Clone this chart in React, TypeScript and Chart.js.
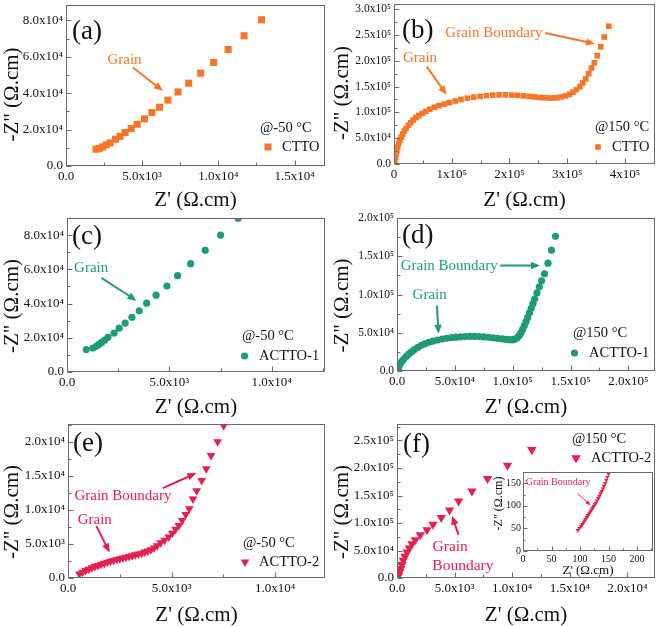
import React, { useEffect, useRef } from "react";
import { Chart, registerables } from "chart.js";

Chart.register(...registerables);

const SERIF = "'Liberation Serif', 'Times New Roman', Times, serif";
const ORANGE = "#F5762A";
const GREEN = "#1E9C74";
const RED = "#E3204F";
const FRAME = "#6a6a6a";

// ---------- (a) CTTO @-50 °C ----------
const ctto50X = [1970, 2190, 2410, 2630, 2900, 3250, 3550, 3880, 4280, 4670, 5150, 5640, 6140, 6690, 7350, 8050, 8840, 9690, 10640, 11690, 12830];
const ctto50Y = [9200, 9700, 10500, 11600, 12700, 14700, 16300, 18400, 20600, 22900, 25900, 29400, 32300, 36200, 40700, 45500, 51000, 56900, 64000, 71600, 80400];
const aXTicks = [0, 5000, 10000, 15000];
const aXLabels = ["0.0", "5.0x10³", "1.0x10⁴", "1.5x10⁴"];
const aYTicks = [0, 20000, 40000, 60000, 80000];
const aYLabels = ["0.0", "2.0x10⁴", "4.0x10⁴", "6.0x10⁴", "8.0x10⁴"];

// ---------- (b) CTTO @150 °C ----------
const ctto150X = [1500, 2500, 3500, 5000, 6500, 8000, 10000, 12500, 15000, 18000, 21000, 25000, 29000, 33000, 38000, 43000, 49000, 55000, 62000, 70000, 78000, 87000, 96000, 106000, 116000, 127000, 138000, 149000, 160000, 171000, 182000, 193000, 204000, 214000, 224000, 234000, 243000, 252000, 260000, 268000, 276000, 283000, 290000, 297000, 304000, 310000, 316000, 322000, 327000, 332000, 337000, 342000, 347000, 352000, 358000, 364000, 372000];
const ctto150Y = [5000, 12000, 19000, 26000, 33000, 40000, 46000, 52000, 58000, 64000, 69000, 75000, 80000, 85000, 90000, 94000, 98000, 102000, 106000, 110000, 113000, 116000, 119000, 122000, 125000, 127500, 129500, 131000, 132500, 133500, 134000, 134000, 133500, 133000, 132000, 131000, 130000, 129000, 128500, 128000, 128000, 128500, 130000, 132000, 135000, 139000, 144000, 150000, 157000, 165000, 175000, 186000, 196000, 210000, 227000, 246000, 267000];
const bXTicks = [0, 100000, 200000, 300000, 400000];
const bXLabels = ["0", "1x10⁵", "2x10⁵", "3x10⁵", "4x10⁵"];
const bYTicks = [0, 50000, 100000, 150000, 200000, 250000, 300000];
const bYLabels = ["0.0", "5.0x10⁴", "1.0x10⁵", "1.5x10⁵", "2.0x10⁵", "2.5x10⁵", "3.0x10⁵"];

// ---------- (c) ACTTO-1 @-50 °C ----------
const a1m50X = [940, 1260, 1430, 1560, 1690, 1840, 2000, 2300, 2550, 2840, 3170, 3530, 3890, 4350, 4880, 5400, 6040, 6750, 7500, 8360];
const a1m50Y = [13100, 14000, 15000, 16100, 17300, 18600, 20300, 22800, 25600, 28600, 32000, 35800, 40200, 44900, 50200, 56300, 63300, 71100, 80000, 89900];
const cXTicks = [0, 5000, 10000];
const cXLabels = ["0.0", "5.0x10³", "1.0x10⁴"];
const cYTicks = [0, 20000, 40000, 60000, 80000];
const cYLabels = ["0.0", "2.0x10⁴", "4.0x10⁴", "6.0x10⁴", "8.0x10⁴"];

// ---------- (d) ACTTO-1 @150 °C ----------
const a1p150X = [1000, 2000, 3000, 4500, 6000, 8000, 10000, 12500, 15000, 18000, 21000, 24000, 27500, 31000, 35000, 39000, 43000, 47000, 51000, 55000, 59000, 63000, 67000, 71000, 75000, 79000, 83000, 87000, 91000, 94500, 97500, 100000, 102000, 104000, 105500, 107000, 108500, 110000, 111500, 113000, 114500, 116000, 117500, 119000, 121000, 123000, 125000, 127500, 130500, 133500, 137000];
const a1p150Y = [3000, 7000, 10000, 13000, 16000, 19000, 22000, 25000, 28000, 31000, 33500, 35500, 37500, 39000, 40500, 41800, 42800, 43600, 44200, 44700, 45000, 45200, 45200, 45000, 44600, 44000, 43300, 42600, 41900, 41300, 41000, 41000, 41800, 43500, 46000, 49500, 54000, 59000, 64500, 70000, 76000, 82000, 88000, 94000, 102000, 110000, 118000, 127000, 141000, 158000, 176000];
const dXTicks = [0, 50000, 100000, 150000, 200000];
const dXLabels = ["0.0", "5.0x10⁴", "1.0x10⁵", "1.5x10⁵", "2.0x10⁵"];
const dYTicks = [0, 50000, 100000, 150000, 200000];
const dYLabels = ["0.0", "5.0x10⁴", "1.0x10⁵", "1.5x10⁵", "2.0x10⁵"];

// ---------- (e) ACTTO-2 @-50 °C ----------
const a2m50X = [550, 700, 850, 1000, 1150, 1300, 1450, 1600, 1750, 1900, 2050, 2200, 2350, 2500, 2650, 2800, 2950, 3100, 3250, 3400, 3550, 3700, 3850, 4000, 4150, 4300, 4470, 4660, 4860, 5030, 5190, 5350, 5510, 5680, 5850, 6030, 6210, 6450, 6670, 6900, 7220, 7510];
const a2m50Y = [600, 850, 1100, 1300, 1500, 1680, 1850, 2000, 2150, 2300, 2450, 2580, 2700, 2820, 2940, 3060, 3170, 3280, 3400, 3520, 3650, 3800, 3960, 4150, 4400, 4750, 5190, 5530, 6020, 6550, 7140, 7720, 8450, 9320, 10150, 11600, 12820, 14320, 16020, 17960, 20000, 22330];
const eXTicks = [0, 5000, 10000];
const eXLabels = ["0.0", "5.0x10³", "1.0x10⁴"];
const eYTicks = [0, 5000, 10000, 15000, 20000];
const eYLabels = ["0.0", "5.0x10³", "1.0x10⁴", "1.5x10⁴", "2.0x10⁴"];

// ---------- (f) ACTTO-2 @150 °C ----------
const a2p150X = [145, 231, 318, 434, 549, 694, 867, 1069, 1300, 1590, 2023, 2601, 3121, 3844, 4566, 5347, 6503, 7861, 9595, 11705];
const a2p150Y = [4820, 10840, 16870, 24100, 31930, 39160, 46990, 54220, 62050, 69280, 78310, 87350, 97590, 109640, 123490, 139760, 157830, 180720, 204820, 233130];
const fXTicks = [0, 5000, 10000, 15000, 20000];
const fXLabels = ["0.0", "5.0x10³", "1.0x10⁴", "1.5x10⁴", "2.0x10⁴"];
const fYTicks = [0, 50000, 100000, 150000, 200000, 250000];
const fYLabels = ["0.0", "5.0x10⁴", "1.0x10⁵", "1.5x10⁵", "2.0x10⁵", "2.5x10⁵"];

// ---------- inset of (f) ----------
const insetX = [96, 99, 102, 104, 106, 108, 110, 112, 114, 116, 118, 120, 122, 124, 126, 128, 130, 132, 134, 136, 138, 140, 142, 144, 146, 148, 150];
const insetY = [46, 51, 55, 59, 63, 67, 71, 75, 79, 83, 87, 91, 95, 99, 103, 107, 112, 117, 122, 127, 132, 138, 144, 150, 157, 164, 171];
const insXTicks = [0, 50, 100, 150, 200];
const insXLabels = ["0", "50", "100", "150", "200"];
const insYTicks = [0, 50, 100, 150];
const insYLabels = ["0", "50", "100", "150"];

const Y_TITLE = "-Z\" (Ω.cm)";
const X_TITLE = "Z' (Ω.cm)";

type Spec = any;

function drawShape(ctx: CanvasRenderingContext2D, shape: string, x: number, y: number, r: number, color: string) {
  ctx.fillStyle = color;
  ctx.beginPath();
  if (shape === "rect") {
    const s = r * Math.SQRT1_2;
    ctx.rect(x - s, y - s, 2 * s, 2 * s);
  } else if (shape === "circle") {
    ctx.arc(x, y, r, 0, Math.PI * 2);
  } else {
    ctx.moveTo(x - r * 0.866, y - r * 0.5);
    ctx.lineTo(x + r * 0.866, y - r * 0.5);
    ctx.lineTo(x, y + r);
    ctx.closePath();
  }
  ctx.fill();
}

function drawArrow(ctx: CanvasRenderingContext2D, x1: number, y1: number, x2: number, y2: number, color: string, lw: number, head: number) {
  const a = Math.atan2(y2 - y1, x2 - x1);
  const c = Math.cos(a), s = Math.sin(a);
  ctx.strokeStyle = color;
  ctx.lineWidth = lw;
  ctx.beginPath();
  ctx.moveTo(x1, y1);
  ctx.lineTo(x2 - c * head * 0.8, y2 - s * head * 0.8);
  ctx.stroke();
  const w = head * 0.42;
  ctx.fillStyle = color;
  ctx.beginPath();
  ctx.moveTo(x2, y2);
  ctx.lineTo(x2 - head * c + w * s, y2 - head * s - w * c);
  ctx.lineTo(x2 - head * c - w * s, y2 - head * s + w * c);
  ctx.closePath();
  ctx.fill();
}

function minorsOf(ticks: number[], min: number, max: number) {
  const step = ticks[1] - ticks[0];
  const out: number[] = [];
  const first = ticks[0] - step / 2;
  if (first > min) out.push(first);
  ticks.forEach((t) => {
    const m = t + step / 2;
    if (m < max) out.push(m);
  });
  return out;
}

function makeDecor(p: Spec) {
  return {
    id: "decor",
    afterDraw(chart: any) {
      const ctx: CanvasRenderingContext2D = chart.ctx;
      const { left, right, top, bottom } = chart.chartArea;
      const xs = chart.scales.x;
      const ys = chart.scales.y;
      ctx.save();
      // frame
      ctx.strokeStyle = FRAME;
      ctx.lineWidth = 1;
      const L = Math.round(left) + 0.5, T = Math.round(top) + 0.5;
      const R = Math.round(right) - 0.5, B = Math.round(bottom) - 0.5;
      ctx.strokeRect(L, T, R - L, B - T);
      // inward ticks
      const maj = p.majorTick, mnr = p.minorTick;
      ctx.beginPath();
      p.xTicks.forEach((v: number) => {
        const px = Math.round(xs.getPixelForValue(v)) + 0.5;
        ctx.moveTo(px, B); ctx.lineTo(px, B - maj);
      });
      minorsOf(p.xTicks, p.xMin, p.xMax).forEach((v) => {
        const px = Math.round(xs.getPixelForValue(v)) + 0.5;
        ctx.moveTo(px, B); ctx.lineTo(px, B - mnr);
      });
      p.yTicks.forEach((v: number) => {
        const py = Math.round(ys.getPixelForValue(v)) + 0.5;
        ctx.moveTo(L, py); ctx.lineTo(L + maj, py);
      });
      minorsOf(p.yTicks, p.yMin, p.yMax).forEach((v) => {
        const py = Math.round(ys.getPixelForValue(v)) + 0.5;
        ctx.moveTo(L, py); ctx.lineTo(L + mnr, py);
      });
      ctx.stroke();

      // axis titles
      ctx.fillStyle = "#111";
      ctx.textAlign = "center";
      ctx.textBaseline = "middle";
      ctx.font = `${p.titleSize}px ${SERIF}`;
      ctx.fillText(X_TITLE, (left + right) / 2 + (p.xTitleDx || 0), chart.height - p.xTitleFromBottom);
      ctx.save();
      ctx.translate(p.yTitleX, (top + bottom) / 2 + p.yTitleDy);
      ctx.rotate(-Math.PI / 2);
      ctx.font = `${p.yTitleSize || p.titleSize}px ${SERIF}`;
      ctx.fillText(Y_TITLE, 0, 0);
      ctx.restore();

      // panel tag
      if (p.tag) {
        ctx.fillStyle = "#111";
        ctx.textAlign = "left";
        ctx.textBaseline = "middle";
        ctx.font = `27px ${SERIF}`;
        ctx.fillText(p.tag, left + p.tagDx, top + p.tagDy);
      }

      // annotations
      (p.notes || []).forEach((n: any) => {
        ctx.fillStyle = p.color;
        ctx.textAlign = n.align || "center";
        ctx.textBaseline = "middle";
        ctx.font = `${n.size}px ${SERIF}`;
        ctx.fillText(n.text, xs.getPixelForValue(n.x), ys.getPixelForValue(n.y));
      });
      (p.arrows || []).forEach((a: any) => {
        drawArrow(ctx, xs.getPixelForValue(a.x1), ys.getPixelForValue(a.y1), xs.getPixelForValue(a.x2), ys.getPixelForValue(a.y2), p.color, a.lw || 2, a.head || 9);
      });

      // legend
      if (p.legend) {
        const lg = p.legend;
        const ax = right + lg.dx;
        const ay = lg.fromTop ? top : bottom;
        ctx.fillStyle = "#111";
        ctx.textAlign = "left";
        ctx.textBaseline = "middle";
        ctx.font = `14.5px ${SERIF}`;
        ctx.fillText(lg.temp, ax, ay + lg.y1);
        drawShape(ctx, p.shape, right + lg.symDx, ay + lg.y2, p.radius, p.color);
        ctx.fillStyle = "#111";
        ctx.fillText(lg.name, right + lg.textDx, ay + lg.y2);
      }
      ctx.restore();
    },
  };
}

function makeLabeler(ticks: number[], labels: string[]) {
  return (v: any) => {
    const i = ticks.indexOf(Number(v));
    return i >= 0 ? labels[i] : "";
  };
}

function PanelChart({ p }: { p: Spec }) {
  const ref = useRef<HTMLCanvasElement | null>(null);
  useEffect(() => {
    const canvas = ref.current;
    if (!canvas) return;
    const data = p.xs.map((x: number, i: number) => ({ x, y: p.ys[i] }));
    const chart = new Chart(canvas, {
      type: "scatter",
      data: {
        datasets: [
          {
            data,
            pointStyle: p.shape,
            pointRadius: p.radius,
            pointRotation: p.shape === "triangle" ? 180 : 0,
            pointBackgroundColor: p.color,
            pointBorderColor: p.color,
            pointBorderWidth: 0,
            showLine: false,
          },
        ],
      },
      options: {
        animation: false,
        responsive: false,
        maintainAspectRatio: false,
        devicePixelRatio: 1,
        events: [],
        layout: {
          padding: {
            left: 0,
            top: p.plot.top - p.box.y,
            right: p.box.x + p.box.w - p.plot.right,
            bottom: 0,
          },
        },
        plugins: { legend: { display: false }, tooltip: { enabled: false } },
        scales: {
          x: {
            type: "linear",
            min: p.xMin,
            max: p.xMax,
            grid: { display: false, drawTicks: false },
            border: { display: false },
            ticks: {
              padding: p.xTickPad,
              color: "#111",
              font: { family: SERIF, size: p.tickSize },
              autoSkip: false,
              maxRotation: 0,
              includeBounds: false,
              callback: makeLabeler(p.xTicks, p.xLabels),
            },
            afterBuildTicks: (s: any) => {
              s.ticks = p.xTicks.map((v: number) => ({ value: v }));
            },
            afterFit: (s: any) => {
              s.height = p.box.y + p.box.h - p.plot.bottom;
              s.paddingLeft = 0; s.paddingRight = 0; s.paddingTop = 0; s.paddingBottom = 0;
            },
          },
          y: {
            type: "linear",
            min: p.yMin,
            max: p.yMax,
            grid: { display: false, drawTicks: false },
            border: { display: false },
            ticks: {
              padding: p.yTickPad,
              color: "#111",
              font: { family: SERIF, size: p.yTickSize || p.tickSize },
              autoSkip: false,
              includeBounds: false,
              callback: makeLabeler(p.yTicks, p.yLabels),
            },
            afterBuildTicks: (s: any) => {
              s.ticks = p.yTicks.map((v: number) => ({ value: v }));
            },
            afterFit: (s: any) => {
              s.width = p.plot.left - p.box.x;
              s.paddingLeft = 0; s.paddingRight = 0; s.paddingTop = 0; s.paddingBottom = 0;
            },
          },
        },
      },
      plugins: [makeDecor(p)],
    } as any);
    return () => chart.destroy();
  }, [p]);
  return (
    <canvas
      ref={ref}
      width={p.box.w}
      height={p.box.h}
      style={{ position: "absolute", left: p.box.x, top: p.box.y, width: p.box.w, height: p.box.h }}
    />
  );
}

const common = { majorTick: 5, minorTick: 3, tickSize: 13, titleSize: 21, xTickPad: 3, yTickPad: 3, yTitleX: 12 };

const panels: Spec[] = [
  {
    ...common,
    box: { x: 0, y: 0, w: 330, h: 210 },
    plot: { left: 66, top: 4, right: 325, bottom: 166 },
    xs: ctto50X, ys: ctto50Y, color: ORANGE, shape: "rect", radius: 5,
    xMin: 0, xMax: 17000, yMin: 0, yMax: 88500,
    xTicks: aXTicks, xLabels: aXLabels, yTicks: aYTicks, yLabels: aYLabels,
    xTitleFromBottom: 10, yTitleDy: 9,
    tag: "(a)", tagDx: 6, tagDy: 27,
    notes: [{ text: "Grain", x: 3840, y: 58300, size: 15 }],
    arrows: [{ x1: 4390, y1: 54100, x2: 6360, y2: 41300 }],
    legend: { temp: "@-50 °C", name: "CTTO", dx: -65, symDx: -57, textDx: -43, y1: -38, y2: -19 },
  },
  {
    ...common,
    box: { x: 330, y: 0, w: 331, h: 210 },
    plot: { left: 394, top: 4, right: 655, bottom: 164 },
    xs: ctto150X, ys: ctto150Y, color: ORANGE, shape: "rect", radius: 4,
    xMin: 0, xMax: 452000, yMin: 0, yMax: 310000,
    xTicks: bXTicks, xLabels: bXLabels, yTicks: bYTicks, yLabels: bYLabels,
    yTickSize: 11.5,
    xTitleFromBottom: 10, yTitleDy: 9,
    tag: "(b)", tagDx: 8, tagDy: 27,
    notes: [
      { text: "Grain Boundary", x: 173000, y: 254000, size: 15 },
      { text: "Grain", x: 45000, y: 205000, size: 15 },
    ],
    arrows: [
      { x1: 262000, y1: 254000, x2: 348000, y2: 233000 },
      { x1: 56600, y1: 189000, x2: 91300, y2: 134000 },
    ],
    legend: { temp: "@150 °C", name: "CTTO", dx: -60, symDx: -57, textDx: -43, y1: -37, y2: -17 },
  },
  {
    ...common,
    box: { x: 0, y: 210, w: 330, h: 207 },
    plot: { left: 67, top: 218, right: 325, bottom: 372 },
    xs: a1m50X, ys: a1m50Y, color: GREEN, shape: "circle", radius: 3.6,
    xMin: 0, xMax: 12600, yMin: 0, yMax: 90000,
    xTicks: cXTicks, xLabels: cXLabels, yTicks: cYTicks, yLabels: cYLabels,
    xTitleFromBottom: 10, yTitleDy: 11,
    tag: "(c)", tagDx: 5, tagDy: 19,
    notes: [{ text: "Grain", x: 1180, y: 60500, size: 15 }],
    arrows: [{ x1: 1680, y1: 55000, x2: 3400, y2: 41700 }],
    legend: { temp: "@-50 °C", name: "ACTTO-1", dx: -83, symDx: -80.5, textDx: -66, y1: -36, y2: -16 },
  },
  {
    ...common,
    box: { x: 330, y: 210, w: 331, h: 207 },
    plot: { left: 397, top: 218, right: 655, bottom: 371 },
    xs: a1p150X, ys: a1p150Y, color: GREEN, shape: "circle", radius: 3.6,
    xMin: 0, xMax: 223000, yMin: 0, yMax: 200000,
    xTicks: dXTicks, xLabels: dXLabels, yTicks: dYTicks, yLabels: dYLabels,
    yTickSize: 11.5,
    xTitleFromBottom: 10, yTitleDy: 11,
    tag: "(d)", tagDx: 5, tagDy: 18,
    notes: [
      { text: "Grain Boundary", x: 45100, y: 137800, size: 15 },
      { text: "Grain", x: 28200, y: 98700, size: 15 },
    ],
    arrows: [
      { x1: 89100, y1: 137800, x2: 123600, y2: 137800 },
      { x1: 34500, y1: 85700, x2: 35900, y2: 48700 },
    ],
    legend: { temp: "@150 °C", name: "ACTTO-1", dx: -82, symDx: -80.5, textDx: -66, y1: -38, y2: -18 },
  },
  {
    ...common,
    box: { x: 0, y: 417, w: 330, h: 210 },
    plot: { left: 68, top: 424, right: 325, bottom: 578 },
    xs: a2m50X, ys: a2m50Y, color: RED, shape: "triangle", radius: 5,
    xMin: 0, xMax: 12400, yMin: 0, yMax: 22600,
    xTicks: eXTicks, xLabels: eXLabels, yTicks: eYTicks, yLabels: eYLabels,
    xTitleFromBottom: 12, yTitleDy: 11,
    tag: "(e)", tagDx: 5, tagDy: 20,
    notes: [
      { text: "Grain Boundary", x: 2650, y: 12000, size: 15 },
      { text: "Grain", x: 1290, y: 8450, size: 15 },
    ],
    arrows: [
      { x1: 4580, y1: 13200, x2: 6190, y2: 15400 },
      { x1: 1370, y1: 7620, x2: 2010, y2: 3740 },
    ],
    legend: { temp: "@-50 °C", name: "ACTTO-2", dx: -82, symDx: -80, textDx: -66, y1: -35, y2: -16 },
  },
  {
    ...common,
    box: { x: 330, y: 417, w: 331, h: 210 },
    plot: { left: 397, top: 424, right: 655, bottom: 578 },
    xs: a2p150X, ys: a2p150Y, color: RED, shape: "triangle", radius: 5.4,
    xMin: 0, xMax: 22400, yMin: 0, yMax: 280000,
    xTicks: fXTicks, xLabels: fXLabels, yTicks: fYTicks, yLabels: fYLabels,
    xTitleFromBottom: 12, yTitleDy: 11,
    tag: "(f)", tagDx: 6, tagDy: 21,
    notes: [
      { text: "Grain", x: 4620, y: 57200, size: 15.5 },
      { text: "Boundary", x: 5720, y: 21100, size: 15.5 },
    ],
    arrows: [{ x1: 5350, y1: 78300, x2: 4770, y2: 113000 }],
    legend: { fromTop: true, temp: "@150 °C", name: "ACTTO-2", dx: -83, symDx: -79, textDx: -64, y1: 15, y2: 34 },
  },
  {
    majorTick: 4, minorTick: 2, tickSize: 10, titleSize: 13, yTitleSize: 12, xTickPad: 2, yTickPad: 2, yTitleX: 11,
    box: { x: 488, y: 465, w: 170, h: 127 },
    plot: { left: 523, top: 472, right: 653, bottom: 551 },
    xs: insetX, ys: insetY, color: RED, shape: "triangle", radius: 2.6,
    xMin: 0, xMax: 228, yMin: 0, yMax: 175,
    xTicks: insXTicks, xLabels: insXLabels, yTicks: insYTicks, yLabels: insYLabels,
    xTitleFromBottom: 21, yTitleDy: -8,
    notes: [{ text: "Grain Boundary", x: 5, y: 151, size: 10, align: "left" }],
    arrows: [{ x1: 96, y1: 127, x2: 118.6, y2: 101.3, lw: 1, head: 5 }],
  },
];

export default function App() {
  return (
    <div style={{ position: "absolute", left: 0, top: 0, width: 661, height: 627, background: "#fff" }}>
      {panels.map((p, i) => (
        <PanelChart key={i} p={p} />
      ))}
    </div>
  );
}
